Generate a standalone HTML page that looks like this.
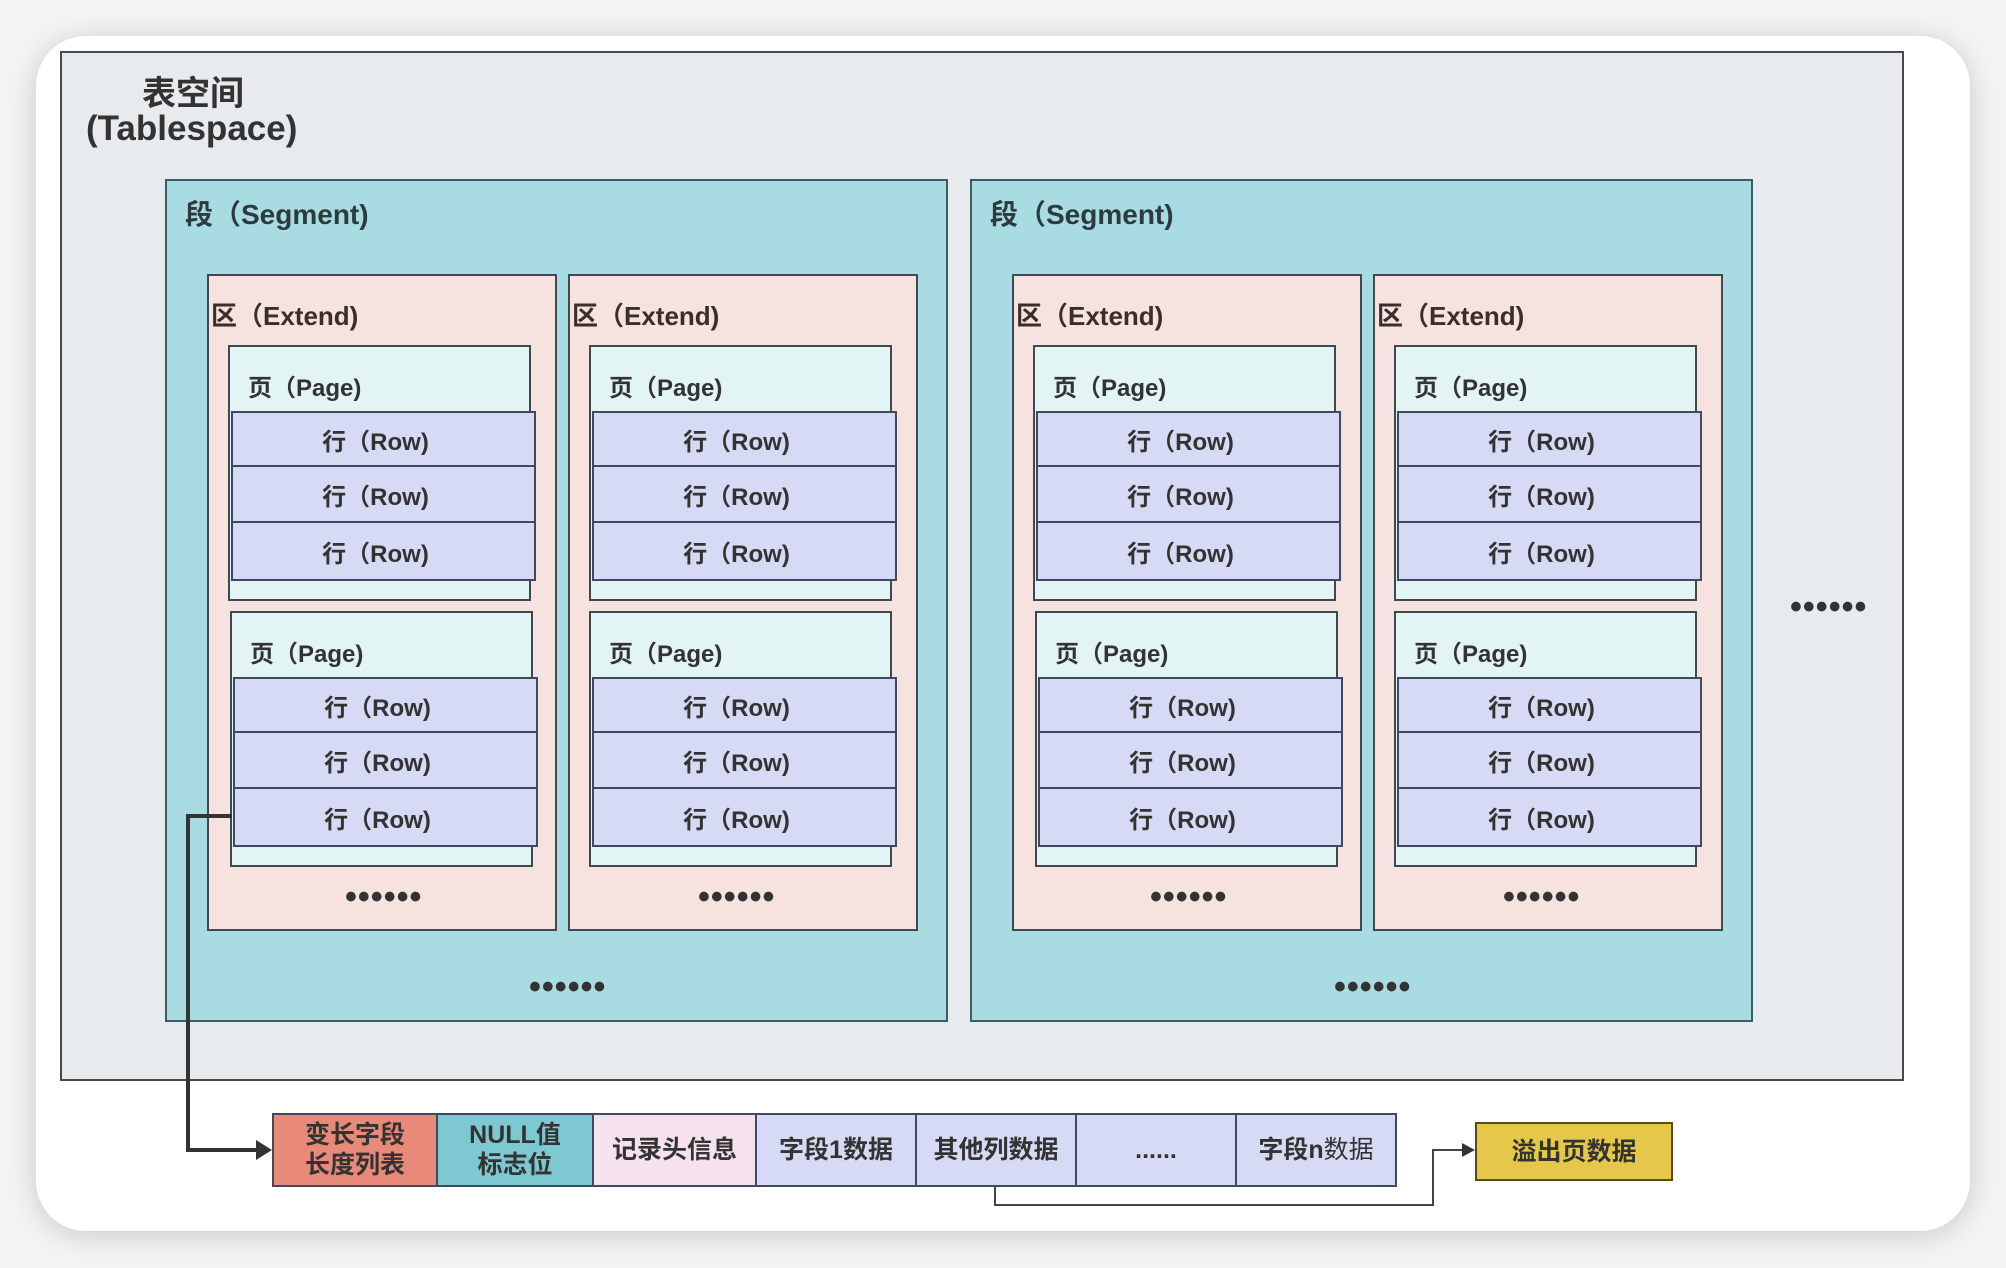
<!DOCTYPE html>
<html><head><meta charset="utf-8"><style>
*{margin:0;padding:0;box-sizing:border-box}
body{width:2006px;height:1268px;background:#f4f4f4;position:relative;overflow:hidden;font-family:"Liberation Sans","Noto Sans CJK SC",sans-serif;color:#333}
.a{position:absolute}
.card{left:36px;top:36px;width:1934px;height:1195px;background:#fff;border-radius:50px;box-shadow:0 4px 30px rgba(0,0,0,.18)}
.ts{left:60px;top:51px;width:1844px;height:1030px;background:#e8ebed;border:2px solid #4a4a4a}
.seg{top:179px;width:783px;height:843px;background:#a8dce2;border:2px solid #3f5a60}
.seg .lb{left:18px;top:12px;font-size:28px;font-weight:bold;color:#2d3a3e}
.ext{top:93px;width:350px;height:657px;background:#f6e2de;border:2px solid #3f4a50}
.ext .el{left:2px;top:20px;font-size:26px;font-weight:bold;color:#3a2e2c}
.pg{left:19px;width:303px;height:256px;background:#e2f4f4;border:2px solid #3f4a50}
.pg .pl{left:18px;top:21px;font-size:24px;font-weight:bold;color:#333}
.row{left:1px;width:305px;background:#d6daf4;border:2px solid #3f4a60;font-size:24px;font-weight:bold;text-align:center;color:#333;display:flex;align-items:center;justify-content:center;padding-right:16px}
.dots{font-size:34px;font-weight:bold;letter-spacing:1px;color:#333;line-height:1}
.cell{top:1113px;height:74px;border:2px solid #3f4a60;display:flex;align-items:center;justify-content:center;text-align:center;font-size:25px;font-weight:bold;line-height:1.2;color:#333}
</style></head><body>
<div class="a card"></div>
<div class="a ts"></div>
<div class="a" style="left:142px;top:66px;font-size:34px;font-weight:bold;color:#333">表空间</div>
<div class="a" style="left:86px;top:109px;font-size:35px;font-weight:bold;color:#333">(Tablespace)</div>

<!-- segment 1 -->
<div class="a seg" style="left:165px">
 <div class="a lb">段（Segment)</div>
 <div class="a ext" style="left:40px">
  <div class="a el">区（Extend)</div>
  <div class="a pg" style="top:69px"><div class="a pl">页（Page)</div>
   <div class="a row" style="top:64px;height:56px">行（Row)</div><div class="a row" style="top:118px;height:58px">行（Row)</div><div class="a row" style="top:174px;height:60px">行（Row)</div></div>
  <div class="a pg" style="top:335px;left:21px"><div class="a pl">页（Page)</div>
   <div class="a row" style="top:64px;height:56px">行（Row)</div><div class="a row" style="top:118px;height:58px">行（Row)</div><div class="a row" style="top:174px;height:60px">行（Row)</div></div>
  <div class="a dots" style="left:136px;top:604px">••••••</div>
 </div>
 <div class="a ext" style="left:401px">
  <div class="a el">区（Extend)</div>
  <div class="a pg" style="top:69px"><div class="a pl">页（Page)</div>
   <div class="a row" style="top:64px;height:56px">行（Row)</div><div class="a row" style="top:118px;height:58px">行（Row)</div><div class="a row" style="top:174px;height:60px">行（Row)</div></div>
  <div class="a pg" style="top:335px"><div class="a pl">页（Page)</div>
   <div class="a row" style="top:64px;height:56px">行（Row)</div><div class="a row" style="top:118px;height:58px">行（Row)</div><div class="a row" style="top:174px;height:60px">行（Row)</div></div>
  <div class="a dots" style="left:128px;top:604px">••••••</div>
 </div>
 <div class="a dots" style="left:362px;top:789px">••••••</div>
</div>

<!-- segment 2 -->
<div class="a seg" style="left:970px">
 <div class="a lb">段（Segment)</div>
 <div class="a ext" style="left:40px">
  <div class="a el">区（Extend)</div>
  <div class="a pg" style="top:69px"><div class="a pl">页（Page)</div>
   <div class="a row" style="top:64px;height:56px">行（Row)</div><div class="a row" style="top:118px;height:58px">行（Row)</div><div class="a row" style="top:174px;height:60px">行（Row)</div></div>
  <div class="a pg" style="top:335px;left:21px"><div class="a pl">页（Page)</div>
   <div class="a row" style="top:64px;height:56px">行（Row)</div><div class="a row" style="top:118px;height:58px">行（Row)</div><div class="a row" style="top:174px;height:60px">行（Row)</div></div>
  <div class="a dots" style="left:136px;top:604px">••••••</div>
 </div>
 <div class="a ext" style="left:401px">
  <div class="a el">区（Extend)</div>
  <div class="a pg" style="top:69px"><div class="a pl">页（Page)</div>
   <div class="a row" style="top:64px;height:56px">行（Row)</div><div class="a row" style="top:118px;height:58px">行（Row)</div><div class="a row" style="top:174px;height:60px">行（Row)</div></div>
  <div class="a pg" style="top:335px"><div class="a pl">页（Page)</div>
   <div class="a row" style="top:64px;height:56px">行（Row)</div><div class="a row" style="top:118px;height:58px">行（Row)</div><div class="a row" style="top:174px;height:60px">行（Row)</div></div>
  <div class="a dots" style="left:128px;top:604px">••••••</div>
 </div>
 <div class="a dots" style="left:362px;top:789px">••••••</div>
</div>

<div class="a dots" style="left:1790px;top:590px">••••••</div>

<!-- record -->
<div class="a cell" style="left:272px;width:166px;background:#e8897a">变长字段<br>长度列表</div>
<div class="a cell" style="left:436px;width:158px;background:#7ec8d2">NULL值<br>标志位</div>
<div class="a cell" style="left:592px;width:165px;background:#f6e2ec">记录头信息</div>
<div class="a cell" style="left:755px;width:162px;background:#d6daf4">字段1数据</div>
<div class="a cell" style="left:915px;width:162px;background:#d6daf4">其他列数据</div>
<div class="a cell" style="left:1075px;width:162px;background:#d6daf4">......</div>
<div class="a cell" style="left:1235px;width:162px;background:#d6daf4">字段n<span style="font-weight:normal">数据</span></div>
<div class="a cell" style="left:1475px;top:1122px;width:198px;height:59px;background:#e5c84a;border-color:#5a4a20">溢出页数据</div>

<svg class="a" style="left:0;top:0" width="2006" height="1268">
 <polyline points="232,816 188,816 188,1150 258,1150" fill="none" stroke="#333" stroke-width="4"/>
 <polygon points="256,1140 272,1150 256,1160" fill="#333"/>
 <polyline points="995,1187 995,1205 1433,1205 1433,1150 1463,1150" fill="none" stroke="#444" stroke-width="2"/>
 <polygon points="1462,1143 1475,1150 1462,1157" fill="#333"/>
</svg>
</body></html>
